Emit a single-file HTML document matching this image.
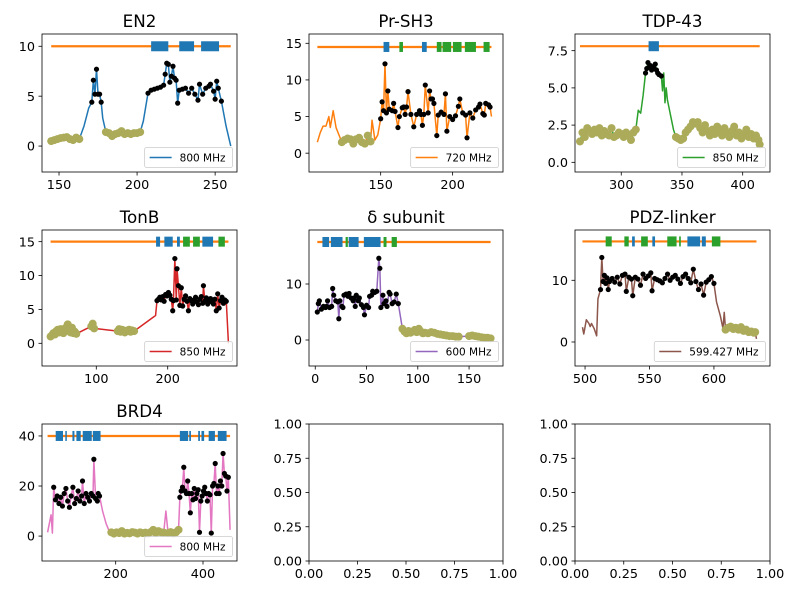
<!DOCTYPE html>
<html><head><meta charset="utf-8"><style>
html,body{margin:0;padding:0;background:#fff}
svg{display:block}
text{font-family:"DejaVu Sans","Liberation Sans",sans-serif;fill:#000}
</style></head><body>
<svg id="fig" width="800" height="600" viewBox="0 0 800 600" xmlns="http://www.w3.org/2000/svg"></svg>
<script>
// ---------- data ----------
const en2X=[145,147,149,151,153,155,157,159,161,163,166,169,171,172,173,174,175,176,177,178,180,182,184,186,188,190,192,194,196,198,200,202,204,207,209,211,213,215,217,218,219,220,221,222,223,224,225,226,227,229,231,233,235,237,239,240,242,244,246,247,249,250,251,252,254,257,260];
const en2Y=[.5,.6,.7,.8,.85,.9,.7,.6,.85,.7,2,3.8,4.4,6.6,5.2,7.7,5.2,5.2,4.4,2.8,1.4,1.3,1.0,1.2,1.3,1.5,1.2,1.3,1.2,1.3,1.3,1.4,2.5,5.3,5.6,5.7,5.8,5.9,6.1,7.2,8.3,8.2,6.4,7.0,8.0,6.8,6.6,4.3,5.6,5.7,5.8,5.3,5.8,5.2,4.6,6.2,5.2,5.8,6.0,6.2,5.5,4.7,6.5,5.8,4.5,2,0];
const en2Olive=[[145,163],[180,202]];
const en2Black=[[171,177],[207,254]];
const en2Boxes=[[209,220,'b'],[227,236.5,'b'],[241,252.5,'b']];

const shX=[106,108,110,112,114,115,117,119,121,123,125,127,129,131,133,135,137,139,141,143,144,146,148,150,151,152,153,154,155,156,158,159,160,162,163,165,166,167,168,169,171,173,175,177,178,179,180,181,183,184,185,186,187,189,190,192,194,195,196,198,200,202,204,205,207,209,210,212,214,216,218,219,221,222,223,225,226,227];
const shY=[1.5,2.8,3.7,3.7,5,3.5,5.8,3.5,2.5,1.5,1.8,2.0,1.9,1.3,1.9,2.1,1.5,1.3,2.4,1.6,4.5,1.8,2.5,4.7,7.0,5.8,12.2,5.5,8.5,6.0,5.8,6.8,5.7,3.5,5.0,6.2,6.3,5.3,6.3,8.4,5.3,3.6,5.3,5.8,5.3,3.8,5.3,9.3,5.5,8.5,7.4,7.4,6.8,2.4,5.2,5.6,5.3,8.1,3.0,5.0,4.6,5.1,6.4,7.4,5.5,5.2,2.1,5.5,4.8,5.9,6.3,6.7,5.4,5.2,6.8,6.6,6.3,5.0];
const shOlive=[[123,143]];
const shBlack=[[150,226]];
const shBoxes=[[152,156,'b'],[163,165.5,'g'],[178.7,182,'b'],[189,192.3,'g'],[193,199,'g'],[200.2,206.2,'g'],[208.5,216.2,'g'],[221.5,225.7,'g']];

const tdpX=[266,268,270,272,274,276,278,280,282,284,286,288,290,292,294,296,298,300,302,304,306,308,310,312,314,316,318,320,321,322,323,324,325,326,327,328,329,330,331,333,334,335,336,337,338,339,341,343,345,347,349,351,353,355,357,359,361,363,365,367,369,371,373,375,377,379,381,383,385,387,389,391,393,395,397,399,401,403,405,407,409,411,413,414];
const tdpY=[1.4,2.0,1.7,2.3,2.1,1.9,2.2,2.0,2.3,1.8,2.1,1.9,1.8,2.3,1.7,1.8,2.0,1.9,1.7,2.0,1.8,1.5,2.0,2.2,3.5,3.3,4.5,6.0,6.3,6.7,6.4,6.5,6.2,6.4,6.3,6.6,6.2,6.0,5.9,5.8,4.8,6.0,4.0,5.0,4.2,3.8,3.0,2.2,1.7,1.6,1.5,1.6,2.0,2.2,2.4,2.7,2.6,2.7,2.3,2.0,2.5,2.1,1.8,2.2,1.9,2.4,2.2,1.8,2.3,2.0,1.7,2.1,2.4,1.8,2.0,1.6,1.9,2.2,1.7,1.9,1.6,1.8,1.5,1.2];
const tdpOlive=[[266,312],[345,414]];
const tdpBlack=[[320,333]];
const tdpBoxes=[[322.5,331,'b']];

const tonX=[36,38,40,42,44,46,48,50,52,54,56,58,60,62,64,66,68,70,72,93,95,97,130,132,134,136,138,140,142,144,146,148,150,153,183,185,187,189,191,193,195,197,199,201,203,205,207,208,210,212,213,215,217,219,221,223,225,227,229,231,233,235,237,239,241,243,245,247,249,250,252,254,256,258,260,262,264,266,268,270,272,274,276,278,280,282,285];
const tonY=[1,1.2,1.5,1.3,1.8,2.0,1.6,2.1,1.9,1.5,2.2,2.0,2.8,1.8,1.6,2.3,1.5,1.7,1.4,2.5,2.9,2.2,1.8,2.1,1.7,2.0,1.9,1.6,1.8,1.9,2.0,1.7,1.9,1.8,4.1,6.3,6.5,6.8,6.4,6.9,6.2,7.2,7.0,7.5,7.1,6.5,4.8,6.3,12.5,6.4,11.0,8.5,5.6,8.2,5.5,6.5,7.0,6.2,4.8,6.6,6.3,5.8,6.4,6.8,6.1,5.7,6.5,6.9,5.9,8.5,6.2,6.7,5.8,6.3,6.6,6.1,5.8,6.5,4.8,7.3,5.2,6.3,6.8,5.9,6.4,6.2,0];
const tonOlive=[[36,153]];
const tonBlack=[[185,282]];
const tonBoxes=[[183.7,189.3,'b'],[195.3,207,'b'],[213,217,'b'],[221.5,231,'g'],[235.5,245,'g'],[248.5,263.5,'b'],[271,280,'g']];

const delX=[2,3,4,6,8,10,11,12,14,16,17,18,20,22,23,24,26,27,28,30,32,33,35,37,38,39,40,42,43,45,47,48,50,52,53,55,56,58,60,62,63,64,66,67,69,70,72,73,75,77,79,81,85,87,89,91,93,95,97,99,101,103,105,107,110,113,116,119,122,125,128,131,134,137,140,150,153,156,159,162,165,168,171];
const delY=[5,6.5,7,5.5,6,5.8,6,7,5.8,6,9.2,8,7,6.8,3.8,7,6,5.8,8,8.2,7.8,8.3,7.5,7,7.5,6,8,7,7.5,6.3,5.8,4.5,6.2,5.8,7.8,8,8.7,8.5,8.7,14.6,12.8,5.8,8,6.5,7,6,8.5,8.2,6.5,6.8,8.2,6.5,2,1.5,1.2,1.6,1.3,1.5,1.8,1.4,2.0,1.5,1.2,1.3,1.2,1.4,1.3,1.1,1.0,0.9,0.8,0.7,0.7,0.6,0.6,0.7,0.8,0.7,0.6,0.5,0.4,0.4,0.3];
const delOlive=[[85,171]];
const delBlack=[[2,81]];
const delBoxes=[[7,13.5,'b'],[15.2,26.6,'b'],[29.6,31.8,'g'],[32.6,42.3,'b'],[47.4,63.7,'b'],[66.6,69.5,'g'],[74.5,79.6,'g']];

const pdzX=[498,499,501,503,504,505,507,509,510,512,513,514,515,516,517,518,519,521,523,525,527,529,531,532,534,536,537,539,541,543,545,547,549,551,552,554,556,558,560,562,564,566,568,570,572,574,576,578,580,582,584,586,588,590,592,594,596,598,600,602,605,607,608,609,611,613,615,617,619,621,623,625,627,629,631,632,633];
const pdzY=[2.4,1.3,3.6,3.0,2.5,3.0,2.2,1.0,7.0,8.5,13.7,9.8,10.8,9.5,10.4,8.5,9.8,10.3,9.7,10.5,9.4,10.8,11,8.2,10.5,10.2,7.5,10.5,10.2,9.2,11,10.3,10.7,11.2,8.3,10.3,10.1,9.9,9.6,10.3,11,10,10.5,10.8,10.2,9.5,10.6,11,10.3,9.6,11.8,9.8,8.5,9.4,7.6,9.7,10.1,10.6,9.5,6.5,4.2,2.2,4.8,2.0,2.3,2.5,2.1,2.3,2.0,2.4,1.8,2.0,1.6,1.7,1.5,1.6,0.5];
const pdzOlive=[[609,632]];
const pdzBlack=[[512,600]];
const pdzBoxes=[[516,520.7,'g'],[530.5,533.9,'g'],[536.5,538.6,'b'],[543.5,548.7,'g'],[552.2,554.3,'b'],[563.8,571,'g'],[573,574.3,'g'],[579.4,589.3,'b'],[590.6,593.7,'b'],[598.4,605,'g']];

const brdX=[44,52,55,58,62,66,70,74,78,82,86,90,94,98,102,106,110,114,118,122,124,128,132,136,140,144,148,150,154,158,160,163,170,178,185,190,196,202,208,214,220,226,232,238,244,250,256,262,268,274,280,286,292,298,304,310,315,320,326,332,338,344,347,350,353,356,359,362,365,368,371,374,377,380,383,386,389,392,395,398,401,404,407,410,413,416,419,422,425,428,431,434,437,440,443,446,449,452,455,458,462];
const brdY=[1.5,8.5,1.2,19.5,14.5,16,13,15.5,12,17,19,14,11.5,16,19.5,13,15,18,14,16,22,13,17,15.5,14,17,16,30.7,15,14,17,16,10,5,2,1.5,1,1.5,1.2,2,1.0,1.3,1.1,1.6,1.4,1.0,1.5,1.2,1.4,1.0,1.6,2.5,1.3,2,1.5,1.4,10,1.2,1.6,1.0,1.5,2.5,15.5,18,19.5,27.5,18,17,22,17,9.3,17,14.5,19,15,17,18.5,1.5,14,16,18,19.5,17,14,17,16.5,1.2,20,21,29,17,20,17,22,20,33,25,24,18,23.5,2.5];
const brdOlive=[[190,310],[320,344]];
const brdBlack=[[58,163],[347,458]];
const brdBoxes=[[62.6,79.3,'b'],[84.6,87.8,'b'],[100.9,105.5,'b'],[110,119.9,'b'],[124.5,145.2,'b'],[147.6,165.3,'b'],[347,366,'b'],[368.5,372.4,'b'],[389,393,'b'],[396.5,402.6,'b'],[413,427.3,'b'],[434,454,'b']];

const emptyTicks=[0,0.25,0.5,0.75,1];
const emptyTickLabels=['0.00','0.25','0.50','0.75','1.00'];

// ---------- drawing ----------
const NS='http://www.w3.org/2000/svg';
const fig=document.getElementById('fig');
function mk(tag,attrs,parent){const e=document.createElementNS(NS,tag);for(const k in attrs)e.setAttribute(k,attrs[k]);(parent||fig).appendChild(e);return e;}

const panels=[
 {name:'en2',title:'EN2',ax:[42,34,237,172],xl:[139.1,264],yl:[-2.6,11.23],xt:[150,200,250],yt:[0,5,10],ytl:['0','5','10'],X:en2X,Y:en2Y,olive:en2Olive,black:en2Black,boxes:en2Boxes,barY:10,color:'#1f77b4',leg:'800 MHz'},
 {name:'pr-sh3',title:'Pr-SH3',ax:[309,34,503,172],xl:[100.2,235],yl:[-2.57,16.27],xt:[150,200],yt:[0,5,10,15],ytl:['0','5','10','15'],X:shX,Y:shY,olive:shOlive,black:shBlack,boxes:shBoxes,barY:14.5,color:'#ff7f0e',leg:'720 MHz'},
 {name:'tdp-43',title:'TDP-43',ax:[575,34,770,172],xl:[261.9,422.5],yl:[-0.65,8.62],xt:[300,350,400],yt:[0,2.5,5,7.5],ytl:['0.0','2.5','5.0','7.5'],X:tdpX,Y:tdpY,olive:tdpOlive,black:tdpBlack,boxes:tdpBoxes,barY:7.8,color:'#2ca02c',leg:'850 MHz'},
 {name:'tonb',title:'TonB',ax:[42,230,237,366],xl:[24,297],yl:[-3.35,16.72],xt:[100,200],yt:[0,5,10,15],ytl:['0','5','10','15'],X:tonX,Y:tonY,olive:tonOlive,black:tonBlack,boxes:tonBoxes,barY:15,color:'#d62728',leg:'850 MHz'},
 {name:'delta-subunit',title:'δ subunit',ax:[309,230,503,366],xl:[-6.1,183.1],yl:[-4.64,19.64],xt:[0,50,100,150],yt:[0,10],ytl:['0','10'],X:delX,Y:delY,olive:delOlive,black:delBlack,boxes:delBoxes,barY:17.5,color:'#9467bd',leg:'600 MHz'},
 {name:'pdz-linker',title:'PDZ-linker',ax:[575,230,770,366],xl:[492.2,643.5],yl:[-3.89,18.15],xt:[500,550,600],yt:[0,10],ytl:['0','10'],X:pdzX,Y:pdzY,olive:pdzOlive,black:pdzBlack,boxes:pdzBoxes,barY:16.3,color:'#8c564b',leg:'599.427 MHz'},
 {name:'brd4',title:'BRD4',ax:[42,424,237,561],xl:[31.2,477.9],yl:[-9.96,44.78],xt:[200,400],yt:[0,20,40],ytl:['0','20','40'],X:brdX,Y:brdY,olive:brdOlive,black:brdBlack,boxes:brdBoxes,barY:40,color:'#e377c2',leg:'800 MHz'}
];

function axesFrame(g,p,xt,xtl,yt,ytl,sx,sy){
  const [l,t,r,b]=p.ax;
  xt.forEach((v,i)=>{const x=sx(v);
    const tk=mk('line',{x1:x,x2:x,y1:b,y2:b+3.5,stroke:'#000','stroke-width':0.8},g);
    
    
    const tl=mk('text',{x:x,y:b+17,'text-anchor':'middle','font-size':'12.8px'},g);tl.textContent=xtl[i];
    
    });
  yt.forEach((v,i)=>{const y=sy(v);
    const tk=mk('line',{x1:l-3.5,x2:l,y1:y,y2:y,stroke:'#000','stroke-width':0.8},g);
    
    
    const tl=mk('text',{x:l-7,y:y+4.6,'text-anchor':'end','font-size':'12.8px'},g);tl.textContent=ytl[i];
    
    });
  const fr=mk('rect',{x:l,y:t,width:r-l,height:b-t,fill:'none',stroke:'#000','stroke-width':0.8},g);
  
  
}

function inR(x,rs){return rs.some(r=>x>=r[0]&&x<=r[1]);}

panels.forEach(p=>{
  const [l,t,r,b]=p.ax;
  const sx=v=>l+(v-p.xl[0])/(p.xl[1]-p.xl[0])*(r-l);
  const sy=v=>b-(v-p.yl[0])/(p.yl[1]-p.yl[0])*(b-t);
  const g=mk('g',{});
  
  
  const cp=mk('clipPath',{id:'c-'+p.name},g);mk('rect',{x:l,y:t,width:r-l,height:b-t},cp);
  const pg=mk('g',{'clip-path':'url(#c-'+p.name+')'},g);
  const line=mk('polyline',{points:p.X.map((x,i)=>sx(x)+','+sy(p.Y[i])).join(' '),fill:'none',stroke:p.color,'stroke-width':1.5,'stroke-linejoin':'round'},pg);
  
  
  p.X.forEach((x,i)=>{if(inR(x,p.olive)){
    const c=mk('circle',{cx:sx(x),cy:sy(p.Y[i]),r:4,fill:'#abab5a'},pg);
    
    }});
  p.X.forEach((x,i)=>{if(inR(x,p.black)){
    const c=mk('circle',{cx:sx(x),cy:sy(p.Y[i]),r:2.6,fill:'#000'},pg);
    
    }});
  const x0=p.X[0],x1=p.X[p.X.length-1];
  const bar=mk('line',{x1:sx(x0),x2:sx(x1),y1:sy(p.barY),y2:sy(p.barY),stroke:'#ff7f0e','stroke-width':2.2},pg);
  
  
  p.boxes.forEach(bx=>{
    const rc=mk('rect',{x:sx(bx[0]),y:sy(p.barY)-5,width:Math.max(1.5,sx(bx[1])-sx(bx[0])),height:10,fill:bx[2]==='b'?'#1f77b4':'#2ca02c'},pg);
    
    });
  axesFrame(g,p,p.xt,p.xt.map(String),p.yt,p.ytl,sx,sy);
  const ti=mk('text',{x:(l+r)/2,y:t-7,'text-anchor':'middle','font-size':'16.7px'},g);ti.textContent=p.title;
  
  
  const lg=mk('g',{},g);
  
  
  const box=mk('rect',{rx:2,fill:'#fff','fill-opacity':0.8,stroke:'#ccc','stroke-width':0.8},lg);
  const lt=mk('text',{'font-size':'10.5px'},lg);lt.textContent=p.leg;
  
  
  const tw=lt.getComputedTextLength();
  const w=tw+42, h=20, bx0=r-4.5-w, by0=b-4.5-h;
  box.setAttribute('x',bx0);box.setAttribute('y',by0);box.setAttribute('width',w);box.setAttribute('height',h);
  const ll=mk('line',{x1:bx0+5,x2:bx0+27,y1:by0+10,y2:by0+10,stroke:p.color,'stroke-width':1.5},lg);
  
  
  lt.setAttribute('x',bx0+35);lt.setAttribute('y',by0+14);
});

[[309,424,503,561,'empty-axes-1'],[575,424,770,561,'empty-axes-2']].forEach(a=>{
  const p={ax:a};
  const sx=v=>a[0]+v*(a[2]-a[0]);const sy=v=>a[3]-v*(a[3]-a[1]);
  const g=mk('g',{});
  
  
  axesFrame(g,p,emptyTicks,emptyTickLabels,emptyTicks,emptyTickLabels,sx,sy);
});
</script>
</body></html>
